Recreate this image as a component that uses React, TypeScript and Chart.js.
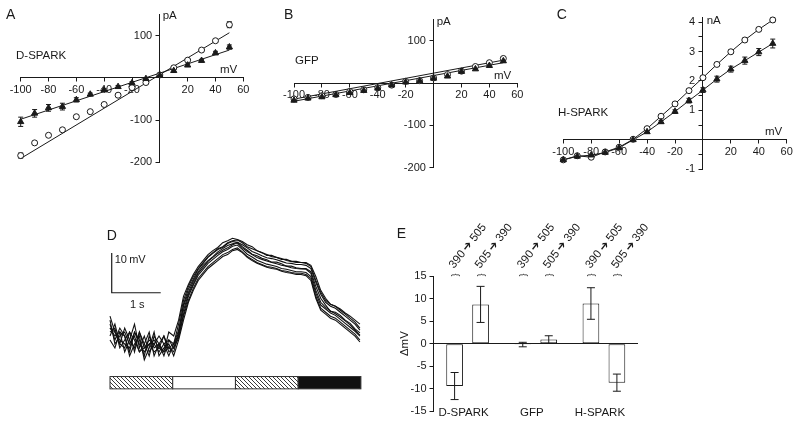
import React, { useEffect, useRef } from 'react';
import { Chart, registerables } from 'chart.js';

Chart.register(...registerables);

const FONT = "'Liberation Sans', Arial, Helvetica, sans-serif";
const INK = '#1a1a1a';

// ---------- Panels A-C : current/voltage relations ----------
const ivVoltages = [-100, -90, -80, -70, -60, -50, -40, -30, -20, -10, 0, 10, 20, 30, 40, 50];
const ivXTicks = [-100, -80, -60, -40, -20, 0, 20, 40, 60];
const fitEnds = [-100, 50];

// A: D-SPARK (pA)
const dsparkCircle = [-184, -154, -136, -123, -92, -80, -63, -41, -23, -11, 7, 24, 42, 66, 88, 126];
const dsparkCircleErr = [6, 3, 3, 3, 3, 2, 2, 2, 2, 2, 2, 2, 2, 2, 3, 7];
const dsparkTri = [-104, -84, -71, -68, -52, -39, -29, -21, -12, -2, 6, 17, 30, 41, 59, 73];
const dsparkTriErr = [11, 9, 8, 8, 5, 3, 3, 3, 3, 2, 2, 3, 3, 3, 4, 5];
const dsparkCircleFit = [-191, 107];
const dsparkTriFit = [-98, 66];
const pATicks = [-200, -100, 0, 100];
const pALabels = [-200, -100, 100];

// B: GFP (pA)
const gfpCircle = [-37.5, -34, -30, -27, -20, -16, -11, -5, 4, 5.5, 12, 20, 28, 39, 48, 58];
const gfpCircleErr = [3, 2, 2, 2, 2, 2, 2, 2, 2, 2, 2, 2, 2, 2, 3, 4];
const gfpTri = [-41, -36, -33, -28, -23, -18, -12.5, -5, 2, 5, 11, 16, 27, 33, 41, 52];
const gfpTriErr = [3, 2, 2, 2, 2, 2, 2, 2, 2, 2, 2, 2, 2, 2, 3, 3];
const gfpCircleFit = [-38, 54];
const gfpTriFit = [-43, 48];

// C: H-SPARK (nA)
const hsparkCircle = [-0.68, -0.54, -0.59, -0.41, -0.25, 0.02, 0.38, 0.8, 1.22, 1.67, 2.11, 2.56, 2.99, 3.39, 3.75, 4.07];
const hsparkCircleErr = [0.03, 0.03, 0.03, 0.03, 0.03, 0.03, 0.04, 0.04, 0.05, 0.05, 0.06, 0.06, 0.06, 0.06, 0.06, 0.07];
const hsparkTri = [-0.68, -0.56, -0.52, -0.43, -0.27, 0, 0.27, 0.61, 0.96, 1.33, 1.69, 2.06, 2.4, 2.69, 2.98, 3.27];
const hsparkTriErr = [0.03, 0.03, 0.03, 0.03, 0.03, 0.03, 0.04, 0.05, 0.06, 0.08, 0.08, 0.1, 0.1, 0.12, 0.12, 0.15];
const nATicks = [-1, -0.5, 0, 0.5, 1, 1.5, 2, 2.5, 3, 3.5, 4];
const nALabels = [-1, 1, 2, 3, 4];

// ---------- Panel D : voltage traces (mV vs s) ----------
const traceTimes = [
  0, 0.1, 0.2, 0.3, 0.4, 0.5, 0.6, 0.7, 0.8, 0.9, 1.0, 1.1, 1.2, 1.3,
  1.4, 1.5, 1.6, 1.7, 1.8, 1.9, 2.0, 2.1, 2.2, 2.3,
  2.4, 2.5, 2.6, 2.7, 2.8, 2.9, 3.0, 3.1, 3.2, 3.3,
  3.4, 3.5, 3.6, 3.7, 3.8, 3.9, 4.0, 4.1, 4.2, 4.3,
  4.4, 4.5, 4.6, 4.7, 4.8, 4.9, 5.0, 5.1,
];
const trace1 = [4, 0, 3, 1, -3, 2, 0, -4, 1, -2, -1, -4, 0, -1, 4, 10, 13.5, 16, 18, 19.5, 21, 22, 23, 23.5, 24.5, 25, 25.2, 24.5, 23.5, 23, 22.5, 22, 21.5, 21, 20.8, 20.5, 20, 19.8, 19.5, 19.5, 19.3, 18.5, 15, 12, 10, 9, 8.5, 7.5, 6.5, 5.5, 4.5, 3];
const trace2 = [1, 4, -1, 3, 0, -2, 2, -1, -4, 1, -1, 1, -3, -2, 0.5, 6, 10, 13, 15.5, 17, 18.5, 19.5, 20.5, 21.5, 22, 22.8, 23.2, 22.2, 21, 20.3, 19.5, 19, 18.5, 18.3, 18, 17.5, 17.3, 17, 16.8, 16.8, 16.5, 15.5, 11, 8, 7, 6, 5.5, 4.5, 3.5, 2.5, 1.5, 0];
const trace3 = [6, 2, -1, -2, 2, 0, -3, -1, 2, -4, -1, -3, 2, 1, 5, 11, 14, 16.5, 18.5, 20, 21.5, 22.5, 23.3, 24.5, 25, 25.6, 25.3, 24.8, 24, 23.5, 22.5, 22, 21.3, 21.3, 20.8, 20.3, 20.3, 19.8, 19.8, 19.5, 19.5, 18.8, 16, 12.5, 10.5, 9, 8.5, 7.8, 6.8, 6, 5, 4];
const trace4 = [0, -2, 2, 1, -4, -1, 1, -5, -2, 2, -4, -2, -1, -4, 0, 5, 9.5, 12.5, 15, 16.5, 18, 19, 20, 21, 21.5, 22.5, 22.8, 22, 20.8, 20, 19.3, 18.8, 18.3, 18, 17.8, 17.3, 17, 16.8, 16.5, 16.5, 16.2, 15, 10.5, 7.5, 6.5, 5.5, 5, 4, 3, 2, 1, -0.5];
const trace5 = [3, 1, 2, -3, 0, 4, -2, 1, -3, -1, 1, -1, -4, -1, 2.5, 8.5, 12, 14.8, 17.2, 18.8, 20, 21, 22.2, 23, 23.8, 24.2, 24.6, 23.5, 22.6, 21.6, 21.2, 20.6, 20.2, 19.6, 19.6, 19.2, 18.6, 18.6, 18.2, 18, 18, 17.2, 13.5, 10.5, 8.8, 7.2, 7, 6.2, 5, 4.2, 2.8, 1.8];
const trace6 = [2, 3, -2, 0, 2, -3, 2, -2, -1, -3, -2, 1, -2, -3, 1.5, 7.5, 11.5, 14.2, 16.8, 18.3, 19.8, 20.8, 21.8, 22.6, 23.2, 24, 24.4, 23.2, 22.3, 21.5, 20.8, 20.3, 19.9, 19.5, 19.2, 18.8, 18.6, 18.2, 18, 17.9, 17.8, 16.8, 12.5, 9.5, 8.2, 7.3, 6.6, 5.8, 4.8, 3.8, 2.5, 1.2];
const trace7 = [5, -1, 1, 2, -1, 1, -3, -2, 0, -1, -3, -1, 0, -2, 2, 9, 12.8, 15.3, 17.8, 19.3, 20.8, 21.8, 22.8, 23.3, 24.3, 24.8, 24.6, 24, 23.2, 22.3, 21.8, 21.2, 20.7, 20.5, 20.2, 19.8, 19.4, 19.3, 19, 19, 18.8, 18, 14.5, 11.5, 9.5, 8.5, 8, 7, 6, 5, 4, 2.5];
const trace8 = [3, 2, 0, -1, -2, 2, -1, -3, -1, 0, -2, -3, -2, -1, 1, 6.5, 11, 13.8, 16.3, 17.8, 19.3, 20.3, 21.3, 22.2, 22.8, 23.6, 23.9, 22.8, 21.6, 20.9, 20.1, 19.6, 19.1, 18.8, 18.5, 18, 17.8, 17.5, 17.2, 17.2, 17, 16, 11.8, 8.8, 7.8, 6.8, 6.2, 5.2, 4.2, 3.2, 2.2, 1];
const traces = [trace1, trace2, trace3, trace4, trace5, trace6, trace7, trace8];
const stimEdges = [0, 1.28, 2.56, 3.84, 5.12];
const stimFills = ['hatch', 'open', 'hatch', 'solid'];
const stimBand = [-12.3, -9.2];
const scaleBarOrigin = [0.035, 11.9];
const scaleBarSize = [1, 10];

// ---------- Panel E : bar chart ----------
const groups = ['D-SPARK', 'GFP', 'H-SPARK'];
const shift390to505 = [-9.4, -0.2, 8.9];
const shift390to505Err = [3.0, 0.5, 3.5];
const shift505to390 = [8.7, 0.9, -8.65];
const shift505to390Err = [4.0, 0.85, 1.9];
const transitionLabels = ['390\u2009\u2794\u2009505', '505\u2009\u2794\u2009390'];
const deltaTicks = [-15, -10, -5, 0, 5, 10, 15];

// ---------- plugins ----------
const errorBarPlugin = {
  id: 'errorBars',
  draw(chart: any, onTop: boolean) {
    const ctx = chart.ctx;
    chart.data.datasets.forEach((ds: any, i: number) => {
      if (!ds.errors || !!ds.errorOnTop !== onTop) return;
      const meta = chart.getDatasetMeta(i);
      const ys = chart.scales[meta.yAxisID];
      const cap = ds.capWidth || 5;
      ctx.save();
      ctx.strokeStyle = INK;
      ctx.lineWidth = 1;
      meta.data.forEach((el: any, j: number) => {
        const e = ds.errors[j];
        if (!e) return;
        const raw = ds.data[j];
        const v = typeof raw === 'number' ? raw : raw.y;
        const x = el.x;
        const y1 = ys.getPixelForValue(v + e);
        const y2 = ys.getPixelForValue(v - e);
        ctx.beginPath();
        ctx.moveTo(x, y1); ctx.lineTo(x, y2);
        ctx.moveTo(x - cap / 2, y1); ctx.lineTo(x + cap / 2, y1);
        ctx.moveTo(x - cap / 2, y2); ctx.lineTo(x + cap / 2, y2);
        ctx.stroke();
      });
      ctx.restore();
    });
  },
  beforeDatasetsDraw(chart: any) { (errorBarPlugin as any).draw(chart, false); },
  afterDatasetsDraw(chart: any) { (errorBarPlugin as any).draw(chart, true); },
};

function makeHatch(ctx: CanvasRenderingContext2D) {
  const c = document.createElement('canvas');
  c.width = 4; c.height = 4;
  const g = c.getContext('2d')!;
  g.fillStyle = '#fff';
  g.fillRect(0, 0, 4, 4);
  g.strokeStyle = '#222';
  g.lineWidth = 0.9;
  g.beginPath();
  g.moveTo(-1, -1); g.lineTo(5, 5);
  g.moveTo(-1, 3); g.lineTo(1, 5);
  g.moveTo(3, -1); g.lineTo(5, 1);
  g.stroke();
  return ctx.createPattern(c, 'repeat');
}

const tracePlugin = {
  id: 'traceDecor',
  afterDatasetsDraw(chart: any) {
    const { ctx, scales } = chart;
    const xs = scales.x, ys = scales.y;
    ctx.save();
    // scale bar
    const x0 = xs.getPixelForValue(scaleBarOrigin[0]);
    const y0 = ys.getPixelForValue(scaleBarOrigin[1]);
    const x1 = xs.getPixelForValue(scaleBarOrigin[0] + scaleBarSize[0]);
    const y1 = ys.getPixelForValue(scaleBarOrigin[1] + scaleBarSize[1]);
    ctx.strokeStyle = INK;
    ctx.lineWidth = 1.2;
    ctx.beginPath();
    ctx.moveTo(x0, y1); ctx.lineTo(x0, y0); ctx.lineTo(x1, y0);
    ctx.stroke();
    ctx.fillStyle = INK;
    ctx.font = `11px ${FONT}`;
    ctx.textAlign = 'left';
    ctx.textBaseline = 'middle';
    ctx.fillText('10\u2009mV', x0 + 3, y1 + 7);
    ctx.textAlign = 'center';
    ctx.fillText('1 s', (x0 + x1) / 2 + 1, y0 + 12);
    // stimulus bar
    const hatch = makeHatch(ctx);
    const top = ys.getPixelForValue(stimBand[1]);
    const bot = ys.getPixelForValue(stimBand[0]);
    for (let i = 0; i < stimFills.length; i++) {
      const a = xs.getPixelForValue(stimEdges[i]);
      const b = xs.getPixelForValue(stimEdges[i + 1]);
      ctx.fillStyle = stimFills[i] === 'hatch' ? hatch : stimFills[i] === 'solid' ? '#111' : '#fff';
      ctx.fillRect(a, top, b - a, bot - top);
      ctx.strokeStyle = '#333';
      ctx.lineWidth = 1;
      ctx.strokeRect(a, top, b - a, bot - top);
    }
    ctx.restore();
  },
};

const transitionPlugin = {
  id: 'transitions',
  afterDraw(chart: any) {
    const { ctx, chartArea } = chart;
    ctx.save();
    ctx.fillStyle = INK;
    chart.data.datasets.forEach((ds: any, i: number) => {
      const meta = chart.getDatasetMeta(i);
      meta.data.forEach((el: any) => {
        const x = el.x;
        // brace
        ctx.save();
        ctx.translate(x + 1, chartArea.top - 1);
        ctx.rotate(-Math.PI / 2);
        ctx.font = `9px ${FONT}`;
        ctx.textAlign = 'center';
        ctx.textBaseline = 'middle';
        ctx.fillText('}', 0, 0);
        ctx.restore();
        // label
        ctx.save();
        ctx.translate(x - 3, chartArea.top - 9);
        ctx.rotate(-52 * Math.PI / 180);
        ctx.font = `11.5px ${FONT}`;
        ctx.textAlign = 'left';
        ctx.textBaseline = 'middle';
        ctx.fillText(transitionLabels[i], 0, 0);
        ctx.restore();
      });
    });
    ctx.restore();
  },
};

// ---------- config builders ----------
function ivConfig(p: any) {
  const pts = (ys: number[]) => ivVoltages.map((v, i) => ({ x: v, y: ys[i] }));
  const ends = (ys: number[]) => fitEnds.map((v, i) => ({ x: v, y: ys[i] }));
  const lineDs = (data: any) => ({
    data, showLine: true, pointRadius: 0, borderColor: INK, borderWidth: 1, clip: false,
  });
  return {
    type: 'scatter',
    data: {
      datasets: [
        { data: pts(p.tri), errors: p.triErr, capWidth: 5, pointStyle: 'triangle', pointRadius: 3.6,
          backgroundColor: INK, borderColor: INK, borderWidth: 1, clip: false },
        { data: pts(p.circle), errors: p.circleErr, capWidth: 5, pointStyle: 'circle', pointRadius: 3,
          backgroundColor: '#fff', borderColor: INK, borderWidth: 1, clip: false },
        lineDs(p.circleFit ? ends(p.circleFit) : pts(p.circle)),
        lineDs(p.triFit ? ends(p.triFit) : pts(p.tri)),
      ],
    },
    options: {
      animation: false,
      responsive: false,
      maintainAspectRatio: false,
      layout: { padding: p.padding },
      plugins: { legend: { display: false }, tooltip: { enabled: false } },
      scales: {
        x: {
          type: 'linear', min: -100, max: 60, position: { y: 0 },
          afterBuildTicks: (s: any) => { s.ticks = ivXTicks.map((v) => ({ value: v })); },
          grid: { display: true, drawOnChartArea: false, drawTicks: true, tickLength: 3.5, color: INK, tickColor: INK },
          border: { display: true, color: INK, width: 1 },
          ticks: { autoSkip: false, maxRotation: 0, padding: 2, color: INK, font: { size: 11, family: FONT },
            callback: (v: number) => (v === 0 ? '' : String(v)) },
        },
        y: {
          type: 'linear', min: p.yMin, max: p.yMax, position: { x: 0 },
          afterBuildTicks: (s: any) => { s.ticks = p.yTicks.map((v: number) => ({ value: v })); },
          grid: { display: true, drawOnChartArea: false, drawTicks: true, tickLength: 3.5, color: INK, tickColor: INK },
          border: { display: true, color: INK, width: 1 },
          ticks: { autoSkip: false, color: INK, font: { size: 11, family: FONT },
            callback: (v: number) => (p.yLabels.includes(v) ? `${v}\u2002\u2009` : '') },
        },
      },
    },
    plugins: [errorBarPlugin],
  };
}

function traceConfig() {
  return {
    type: 'scatter',
    data: {
      datasets: traces.map((tr) => ({
        data: traceTimes.map((t, i) => ({ x: t, y: tr[i] })),
        showLine: true, pointRadius: 0, borderColor: '#111', borderWidth: 1.1, clip: false,
      })),
    },
    options: {
      animation: false,
      responsive: false,
      maintainAspectRatio: false,
      layout: { padding: { left: 10, right: 19.1, top: 8.8, bottom: 24.4 } },
      plugins: { legend: { display: false }, tooltip: { enabled: false } },
      scales: {
        x: { type: 'linear', min: 0, max: 5.12, display: false },
        y: { type: 'linear', min: -14, max: 28, display: false },
      },
    },
    plugins: [tracePlugin],
  };
}

function barConfig() {
  const barDs = (data: number[], errors: number[]) => ({
    data, errors, errorOnTop: true, capWidth: 8,
    backgroundColor: '#fff', borderColor: INK, borderWidth: 1, borderSkipped: false,
    categoryPercentage: 0.762, barPercentage: 0.643,
  });
  return {
    type: 'bar',
    data: {
      labels: groups,
      datasets: [barDs(shift390to505, shift390to505Err), barDs(shift505to390, shift505to390Err)],
    },
    options: {
      animation: false,
      responsive: false,
      maintainAspectRatio: false,
      layout: { padding: { left: 14, right: 12, top: 61, bottom: 11.7 } },
      plugins: { legend: { display: false }, tooltip: { enabled: false } },
      scales: {
        x: {
          position: { y: -15 },
          grid: { display: false, drawTicks: false },
          border: { display: false },
          ticks: { padding: -5.2, labelOffset: -4, color: INK, font: { size: 11.5, family: FONT } },
        },
        y: {
          position: 'left', min: -15, max: 15,
          afterBuildTicks: (s: any) => { s.ticks = deltaTicks.map((v) => ({ value: v })); },
          grid: {
            drawOnChartArea: true, drawTicks: true, tickLength: 4, tickColor: INK,
            color: (c: any) => (c.tick && c.tick.value === 0 ? INK : 'rgba(0,0,0,0)'),
          },
          border: { display: true, color: INK, width: 1 },
          ticks: { padding: 3, color: INK, font: { size: 11, family: FONT }, callback: (v: number) => String(v) },
          title: { display: true, text: '\u0394mV', color: INK, font: { size: 11.5, family: FONT }, padding: { top: 4, bottom: 0 } },
          afterFit: (s: any) => { s.width = 39.5; },
        },
      },
    },
    plugins: [errorBarPlugin, transitionPlugin],
  };
}

// ---------- components ----------
function ChartBox({ left, top, width, height, build }: any) {
  const ref = useRef<HTMLCanvasElement>(null);
  useEffect(() => {
    const chart = new Chart(ref.current as HTMLCanvasElement, build() as any);
    return () => chart.destroy();
  }, []);
  return (
    <canvas ref={ref} width={width} height={height}
      style={{ position: 'absolute', left, top, width, height }} />
  );
}

function Txt({ x, b, s, children }: any) {
  return (
    <div style={{
      position: 'absolute', left: x, top: b - 0.8465 * s, fontSize: s, lineHeight: `${s}px`,
      fontFamily: FONT, color: INK, whiteSpace: 'nowrap',
    }}>{children}</div>
  );
}

export default function App() {
  return (
    <div style={{ position: 'absolute', left: 0, top: 0, width: 800, height: 423, background: '#fff', overflow: 'hidden' }}>
      <ChartBox left={0} top={0} width={270} height={215}
        build={() => ivConfig({
          circle: dsparkCircle, circleErr: dsparkCircleErr, tri: dsparkTri, triErr: dsparkTriErr,
          circleFit: dsparkCircleFit, triFit: dsparkTriFit, yMin: -200, yMax: 150,
          yTicks: pATicks, yLabels: pALabels,
          padding: { left: 20.7, right: 26.7, top: 14.6, bottom: 52.7 },
        })} />
      <ChartBox left={270} top={0} width={265} height={215}
        build={() => ivConfig({
          circle: gfpCircle, circleErr: gfpCircleErr, tri: gfpTri, triErr: gfpTriErr,
          circleFit: gfpCircleFit, triFit: gfpTriFit, yMin: -200, yMax: 150,
          yTicks: pATicks, yLabels: pALabels,
          padding: { left: 24, right: 17.7, top: 19.5, bottom: 47.3 },
        })} />
      <ChartBox left={530} top={0} width={270} height={215}
        build={() => ivConfig({
          circle: hsparkCircle, circleErr: hsparkCircleErr, tri: hsparkTri, triErr: hsparkTriErr,
          yMin: -1, yMax: 4.15, yTicks: nATicks, yLabels: nALabels,
          padding: { left: 33.3, right: 13.3, top: 17.6, bottom: 45.7 },
        })} />
      <ChartBox left={100} top={220} width={280} height={200} build={traceConfig} />
      <ChartBox left={380} top={215} width={270} height={208} build={barConfig} />

      <Txt x={6} b={19.3} s={14}>A</Txt>
      <Txt x={284} b={19} s={14}>B</Txt>
      <Txt x={556.7} b={19.3} s={14}>C</Txt>
      <Txt x={106.7} b={240} s={14}>D</Txt>
      <Txt x={396.7} b={238.3} s={14}>E</Txt>

      <Txt x={16} b={60} s={11.5}>D-SPARK</Txt>
      <Txt x={295} b={65} s={11.5}>GFP</Txt>
      <Txt x={558} b={117} s={11.5}>H-SPARK</Txt>

      <Txt x={162.7} b={19.3} s={11.5}>pA</Txt>
      <Txt x={220} b={73.3} s={11.5}>mV</Txt>
      <Txt x={436.7} b={26} s={11.5}>pA</Txt>
      <Txt x={494} b={80} s={11.5}>mV</Txt>
      <Txt x={706.7} b={25} s={11.5}>nA</Txt>
      <Txt x={765} b={136} s={11.5}>mV</Txt>
    </div>
  );
}
